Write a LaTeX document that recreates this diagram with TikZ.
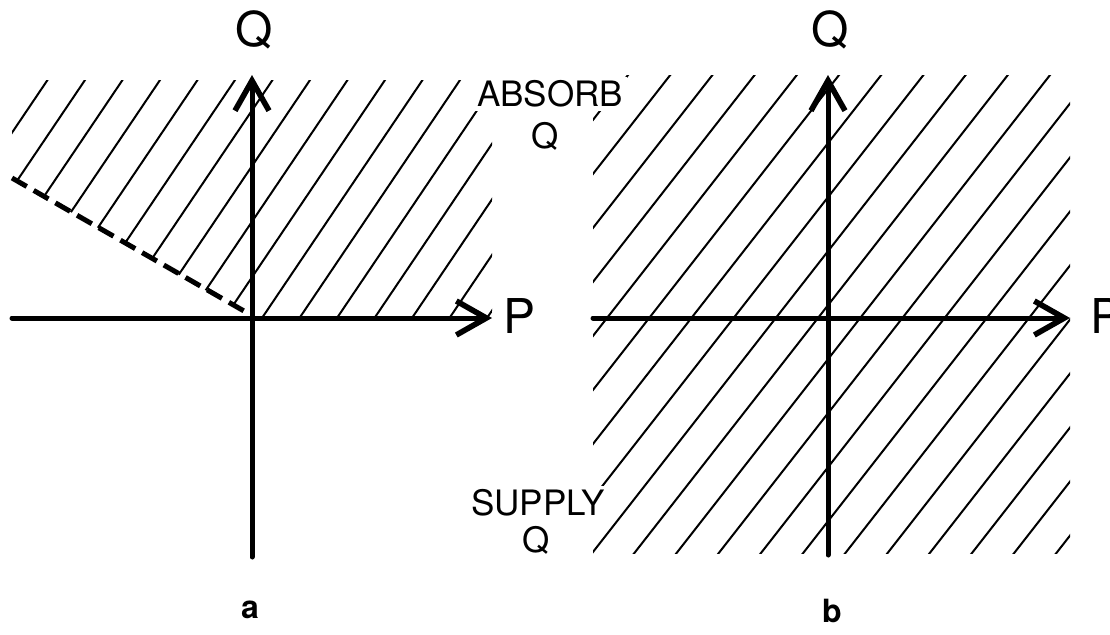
\documentclass[tikz,border=0pt]{standalone}
\usepackage{fontspec}
\setmainfont{TeX Gyre Heros}
\usetikzlibrary{arrows.meta}

\tikzset{
  axis/.style={line width=2.5pt, line cap=round},
  axisarrow/.style={axis, -{Straight Barb[length=15pt,width=17pt,line width=2.8pt]}},
  hatch/.style={line width=1pt},
  border/.style={line width=2.5pt, dash pattern=on 8.5pt off 4pt},
  biglabel/.style={font=\fontsize{24}{28}\selectfont, inner sep=0pt},
  zonelabel/.style={font=\fontsize{17.5}{20}\selectfont, fill=white, inner sep=2pt},
  panellabel/.style={font=\bfseries\fontsize{16}{19}\selectfont, inner sep=0pt, anchor=base}
}

\begin{document}
\begin{tikzpicture}[x=0.5pt,y=0.5pt]
  \useasboundingbox (0,0) rectangle (1110,634);

  % (a) hatched region above the dashed edge
  \begin{scope}
    \clip (12,456) -- (250,318) -- (492,316) -- (492,554) -- (12,554) -- cycle;
    \foreach \k in {-11,...,6}{
      \draw[hatch] (262+37.5*\k,316) ++(236:400) -- ++(56:800);
    }
  \end{scope}
  \coordinate (da) at (12,456);
  \coordinate (db) at (244,323);
  \draw[border] (da) -- (db);

  \coordinate (aW) at (12,316);
  \coordinate (aE) at (492,316);
  \coordinate (aS) at (252,77);
  \coordinate (aN) at (252,559);
  \draw[axisarrow] (aW) -- (aE);
  \draw[axisarrow] (aS) -- (aN);

  % (b) whole plane hatched
  \begin{scope}
    \clip (593,81) rectangle (1070,559);
    \foreach \k in {-5,...,16}{
      \draw[hatch] (607+42.2*\k,316) ++(232:500) -- ++(52:1000);
    }
  \end{scope}
  \coordinate (bW) at (593,316);
  \coordinate (bE) at (1070,316);
  \coordinate (bS) at (828,79);
  \coordinate (bN) at (828,559);
  \draw[axisarrow] (bW) -- (bE);
  \draw[axisarrow] (bS) -- (bN);

  % labels
  \node[biglabel] (qa) at (254,604) {Q};
  \node[biglabel, anchor=west] (pa) at (503,318) {P};
  \node[biglabel] (qb) at (830,604) {Q};
  \node[biglabel, anchor=west] (pb) at (1090,318) {P};
  \node[zonelabel] (absorb) at (550,540) {ABSORB};
  \node[zonelabel] (absorbq) at (545,498) {Q};
  \node[zonelabel] (supply) at (538,131) {SUPPLY};
  \node[zonelabel] (supplyq) at (536,94) {Q};
  \node[panellabel] (la) at (250,16) {a};
  \node[panellabel] (lb) at (832,12) {b};
\end{tikzpicture}
\end{document}
